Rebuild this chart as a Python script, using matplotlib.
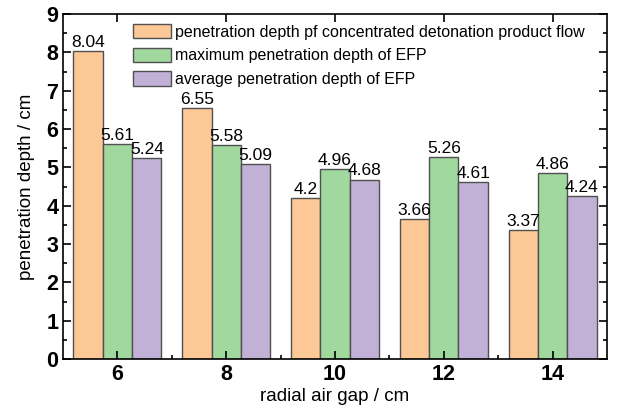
import numpy as np
import matplotlib.pyplot as plt
from matplotlib.ticker import MultipleLocator

plt.rcParams['font.family'] = ['Liberation Sans', 'DejaVu Sans']

gaps = ['6', '8', '10', '12', '14']
product_flow = [8.04, 6.55, 4.2, 3.66, 3.37]
efp_max = [5.61, 5.58, 4.96, 5.26, 4.86]
efp_avg = [5.24, 5.09, 4.68, 4.61, 4.24]
series_labels = ['penetration depth pf concentrated detonation product flow',
                 'maximum penetration depth of EFP',
                 'average penetration depth of EFP']
colors = ['#fcc896', '#a0d89e', '#c2b1d6']

fig = plt.figure(figsize=(6.2, 4.11), dpi=100)
ax = fig.add_axes([63 / 620, 1 - 359 / 411, 544 / 620, 345 / 411])

x = np.arange(len(gaps))
w = 0.27
for i, (vals, lab, c) in enumerate(zip([product_flow, efp_max, efp_avg], series_labels, colors)):
    bars = ax.bar(x + (i - 1) * w, vals, w, color=c, edgecolor='#505050', linewidth=1, label=lab)
    for b, v in zip(bars, vals):
        ax.text(b.get_x() + b.get_width() / 2, v + 0.03, f'{v:g}', ha='center', va='bottom', fontsize=12.5)

ax.set_xlim(-0.5, 4.5)
ax.set_ylim(0, 9)
ax.set_xticks(x)
ax.set_xticklabels(gaps)
ax.set_xticks(x[:-1] + 0.5, minor=True)
ax.yaxis.set_major_locator(MultipleLocator(1))
ax.yaxis.set_minor_locator(MultipleLocator(0.5))
ax.tick_params(which='both', direction='in', top=True, right=True, width=1.2)
ax.tick_params(which='major', length=6, labelsize=15.5)
ax.tick_params(which='minor', length=3)
ax.tick_params(axis='x', top=False, which='minor')
for t in ax.get_xticklabels() + ax.get_yticklabels():
    t.set_fontweight('bold')
for s in ax.spines.values():
    s.set_linewidth(1.2)

ax.set_xlabel('radial air gap / cm', fontsize=13.5, labelpad=2)
ax.set_ylabel('penetration depth / cm', fontsize=13.5, labelpad=8)

ax.legend(loc='upper left', bbox_to_anchor=(70 / 544, 1 - 10 / 345), frameon=False, fontsize=11.5,
          borderaxespad=0, borderpad=0, handlelength=2.4, handleheight=1.0,
          labelspacing=0.5, handletextpad=0.25)

fig.savefig('out.png', dpi=100)
